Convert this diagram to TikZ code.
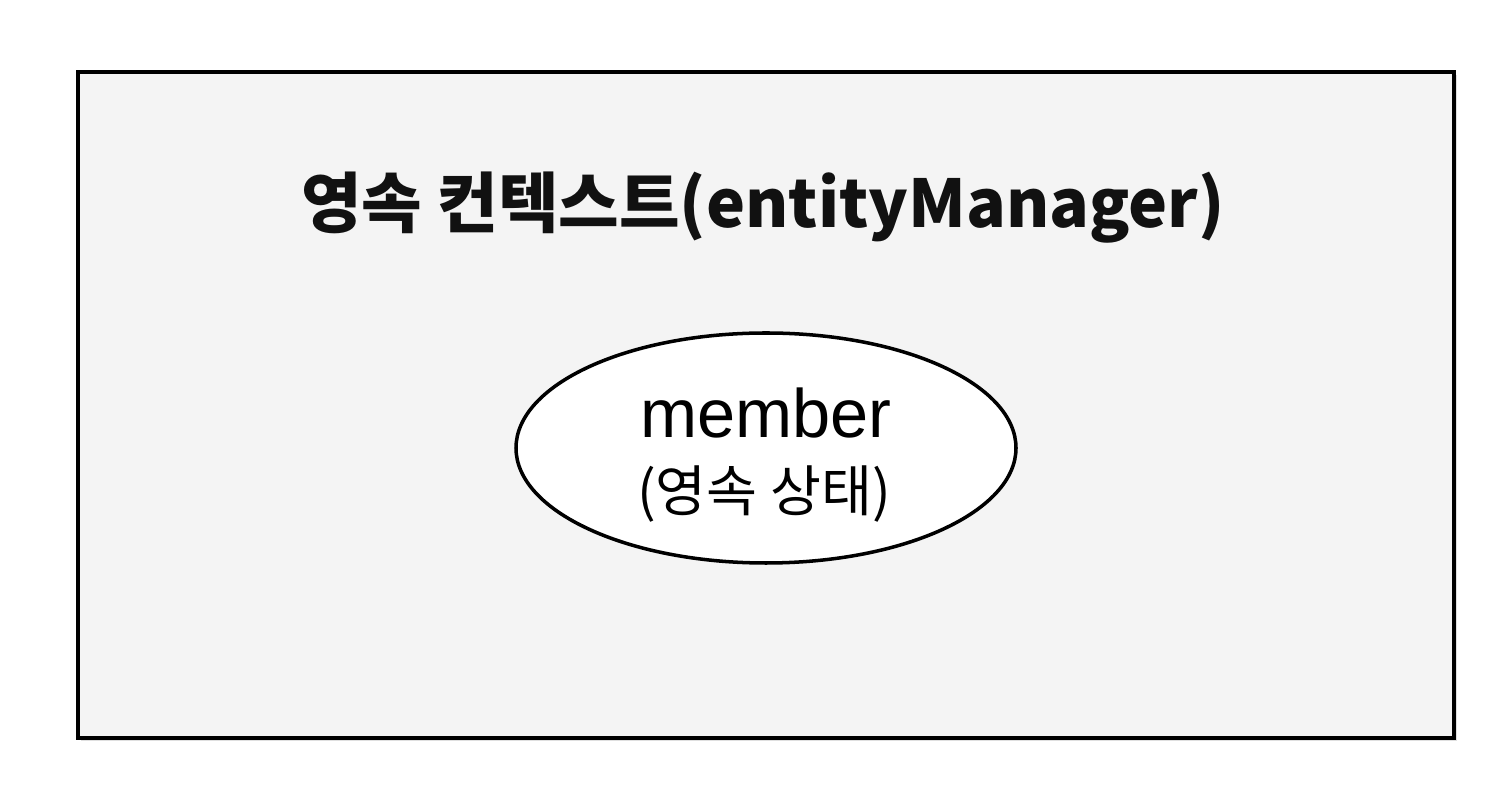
\documentclass[tikz,border=0pt]{standalone}
\usepackage{fontspec}
\setmainfont{Noto Sans CJK KR}
\newfontfamily\latinfont{Liberation Sans}
\usetikzlibrary{shapes.geometric,shadows}
\definecolor{boxgray}{HTML}{F4F4F4}
\definecolor{titleink}{HTML}{111111}

\begin{document}
\begin{tikzpicture}[x=0.02cm, y=-0.02cm, line width=2.3pt]

        % ==========================================
        % 1. Bordo dell'immagine (1512 x 786 px)
        % ==========================================
        \useasboundingbox (0, 0) rectangle (1512, 786);

        % ==========================================
        % 2. Contesto di persistenza
        % ==========================================
        \node[draw, fill=boxgray, rectangle, minimum width=1376*0.02cm, minimum height=666*0.02cm,
              drop shadow={shadow xshift=1.5pt, shadow yshift=-1.5pt, opacity=0.25}] (context) at (766, 405) {};
        \node[font=\fontsize{37.5}{40}\selectfont\bfseries, text=titleink] (title) at (763, 208) {영속 컨텍스트(entityManager)};

        % ==========================================
        % 3. Entita' member
        % ==========================================
        \node[draw, fill=white, ellipse, line width=2pt, minimum width=500*0.02cm, minimum height=230*0.02cm] (member) at (766, 448) {};
        \node[font=\latinfont\fontsize{39}{42}\selectfont] (name) at (766, 413) {member};
        \node[font=\fontsize{31.5}{34}\selectfont] (state) at (764, 494) {(영속 상태)};

    \end{tikzpicture}
\end{document}
